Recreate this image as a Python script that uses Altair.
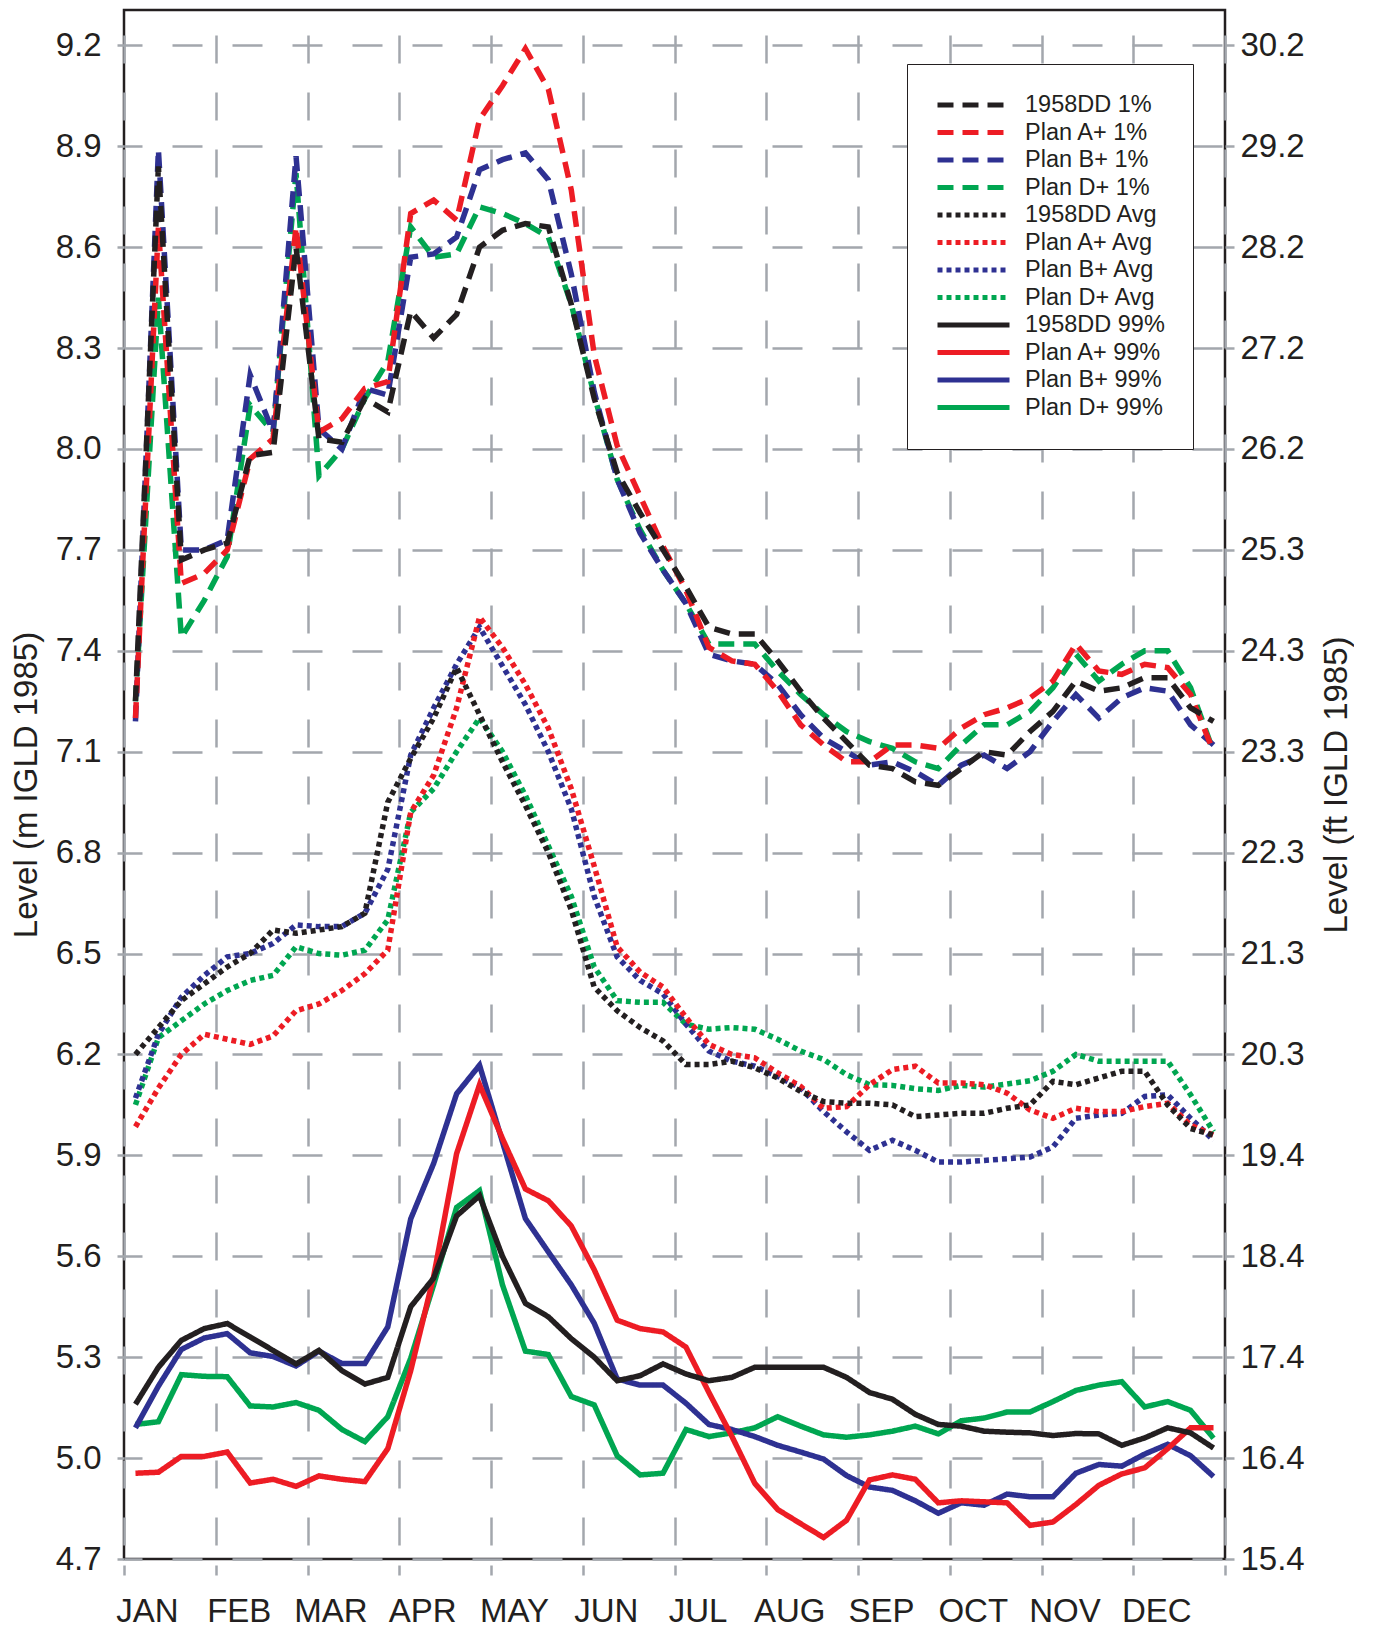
import altair as alt
import pandas as pd

# ---------------- data ----------------
months = ["JAN", "FEB", "MAR", "APR", "MAY", "JUN", "JUL", "AUG", "SEP", "OCT", "NOV", "DEC"]
m_ticks = [4.7, 5.0, 5.3, 5.6, 5.9, 6.2, 6.5, 6.8, 7.1, 7.4, 7.7, 8.0, 8.3, 8.6, 8.9, 9.2]
ft_labels = ["15.4", "16.4", "17.4", "18.4", "19.4", "20.3", "21.3", "22.3",
             "23.3", "24.3", "25.3", "26.2", "27.2", "28.2", "29.2", "30.2"]

legend_order = ["1958DD 1%", "Plan A+ 1%", "Plan B+ 1%", "Plan D+ 1%",
                "1958DD Avg", "Plan A+ Avg", "Plan B+ Avg", "Plan D+ Avg",
                "1958DD 99%", "Plan A+ 99%", "Plan B+ 99%", "Plan D+ 99%"]

dd_1 = [7.25, 8.84, 7.67, 7.70, 7.72, 7.98, 7.99, 8.60, 8.03, 8.02, 8.15, 8.11,
        8.41, 8.33, 8.40, 8.60, 8.65, 8.67, 8.66, 8.43, 8.15, 7.93, 7.81, 7.70,
        7.59, 7.47, 7.45, 7.45, 7.37, 7.28, 7.20, 7.13, 7.06, 7.05, 7.01, 7.00,
        7.05, 7.10, 7.09, 7.16, 7.22, 7.31, 7.28, 7.29, 7.32, 7.32, 7.23, 7.19]
a_1 = [7.20, 8.66, 7.60, 7.63, 7.70, 7.97, 8.03, 8.66, 8.05, 8.09, 8.18, 8.20,
       8.70, 8.74, 8.68, 8.98, 9.08, 9.19, 9.07, 8.77, 8.28, 8.01, 7.86, 7.71,
       7.58, 7.41, 7.37, 7.36, 7.28, 7.18, 7.12, 7.07, 7.07, 7.12, 7.12, 7.11,
       7.17, 7.21, 7.23, 7.26, 7.31, 7.42, 7.34, 7.33, 7.36, 7.35, 7.27, 7.10]
b_1 = [7.19, 8.89, 7.70, 7.70, 7.73, 8.22, 8.05, 8.87, 8.06, 8.00, 8.18, 8.16,
       8.57, 8.58, 8.63, 8.83, 8.86, 8.88, 8.80, 8.52, 8.17, 7.91, 7.75, 7.64,
       7.54, 7.39, 7.37, 7.36, 7.30, 7.21, 7.14, 7.10, 7.06, 7.07, 7.04, 7.00,
       7.06, 7.09, 7.05, 7.10, 7.19, 7.27, 7.20, 7.26, 7.29, 7.28, 7.18, 7.12]
d_1 = [7.25, 8.45, 7.44, 7.55, 7.68, 8.13, 8.05, 8.82, 7.92, 8.00, 8.15, 8.26,
       8.66, 8.57, 8.58, 8.72, 8.70, 8.67, 8.63, 8.43, 8.16, 7.91, 7.76, 7.64,
       7.54, 7.42, 7.42, 7.42, 7.34, 7.27, 7.21, 7.16, 7.13, 7.11, 7.07, 7.05,
       7.12, 7.18, 7.18, 7.22, 7.29, 7.39, 7.31, 7.36, 7.40, 7.40, 7.29, 7.10]

dd_avg = [6.20, 6.28, 6.36, 6.41, 6.46, 6.50, 6.57, 6.56, 6.57, 6.58, 6.62, 6.95,
          7.08, 7.20, 7.35, 7.21, 7.07, 6.94, 6.80, 6.63, 6.40, 6.33, 6.28, 6.24,
          6.17, 6.17, 6.18, 6.16, 6.13, 6.09, 6.06, 6.055, 6.055, 6.05, 6.015, 6.02,
          6.025, 6.025, 6.04, 6.05, 6.12, 6.11, 6.13, 6.15, 6.15, 6.05, 5.98, 5.96]
a_avg = [5.985, 6.10, 6.20, 6.26, 6.245, 6.23, 6.255, 6.33, 6.35, 6.39, 6.44, 6.51,
         6.92, 7.03, 7.23, 7.50, 7.41, 7.30, 7.17, 6.99, 6.76, 6.52, 6.445, 6.40,
         6.31, 6.23, 6.20, 6.19, 6.145, 6.105, 6.04, 6.045, 6.11, 6.155, 6.165, 6.115,
         6.115, 6.11, 6.085, 6.035, 6.01, 6.04, 6.03, 6.03, 6.045, 6.055, 5.99, 5.96]
b_avg = [6.07, 6.26, 6.37, 6.435, 6.49, 6.50, 6.53, 6.585, 6.58, 6.58, 6.62, 6.75,
         7.09, 7.23, 7.36, 7.47, 7.355, 7.24, 7.10, 6.93, 6.67, 6.49, 6.42, 6.38,
         6.29, 6.21, 6.18, 6.165, 6.135, 6.10, 6.03, 5.97, 5.915, 5.945, 5.915, 5.88,
         5.88, 5.885, 5.89, 5.895, 5.925, 6.01, 6.02, 6.025, 6.075, 6.08, 6.01, 5.945]
d_avg = [6.05, 6.25, 6.30, 6.35, 6.39, 6.42, 6.435, 6.52, 6.50, 6.495, 6.51, 6.60,
         6.92, 6.99, 7.10, 7.20, 7.10, 6.97, 6.82, 6.67, 6.46, 6.36, 6.355, 6.355,
         6.29, 6.275, 6.28, 6.275, 6.245, 6.21, 6.185, 6.14, 6.11, 6.108, 6.098, 6.093,
         6.108, 6.103, 6.112, 6.122, 6.15, 6.20, 6.18, 6.18, 6.18, 6.18, 6.08, 5.97]

dd_99 = [5.16, 5.27, 5.35, 5.385, 5.40, 5.36, 5.32, 5.28, 5.32, 5.26, 5.22, 5.24,
         5.45, 5.535, 5.72, 5.78, 5.60, 5.46, 5.42, 5.355, 5.30, 5.23, 5.245, 5.28,
         5.25, 5.23, 5.24, 5.27, 5.27, 5.27, 5.27, 5.24, 5.195, 5.175, 5.13, 5.10,
         5.095, 5.08, 5.077, 5.075, 5.067, 5.073, 5.072, 5.038, 5.06, 5.09, 5.075, 5.03]
a_99 = [4.955, 4.958, 5.005, 5.005, 5.018, 4.926, 4.937, 4.916, 4.947, 4.937, 4.93, 5.028,
        5.26, 5.54, 5.905, 6.11, 5.95, 5.80, 5.765, 5.69, 5.56, 5.41, 5.385, 5.375,
        5.33, 5.195, 5.065, 4.925, 4.847, 4.805, 4.764, 4.815, 4.935, 4.95, 4.937, 4.867,
        4.873, 4.87, 4.867, 4.80, 4.81, 4.862, 4.919, 4.953, 4.971, 5.028, 5.09, 5.09]
b_99 = [5.09, 5.214, 5.323, 5.357, 5.37, 5.313, 5.302, 5.274, 5.318, 5.281, 5.281, 5.39,
        5.711, 5.876, 6.083, 6.168, 5.94, 5.712, 5.613, 5.515, 5.401, 5.235, 5.217, 5.217,
        5.163, 5.10, 5.085, 5.064, 5.038, 5.018, 4.997, 4.948, 4.914, 4.904, 4.873, 4.836,
        4.867, 4.86, 4.893, 4.885, 4.885, 4.955, 4.981, 4.976, 5.012, 5.041, 5.007, 4.945]
d_99 = [5.10, 5.108, 5.248, 5.243, 5.242, 5.155, 5.152, 5.165, 5.142, 5.085, 5.049, 5.123,
        5.297, 5.515, 5.745, 5.795, 5.515, 5.318, 5.308, 5.183, 5.158, 5.007, 4.95, 4.955,
        5.085, 5.064, 5.075, 5.09, 5.123, 5.095, 5.069, 5.062, 5.069, 5.08, 5.095, 5.072,
        5.111, 5.119, 5.137, 5.137, 5.168, 5.201, 5.217, 5.227, 5.152, 5.168, 5.142, 5.059]

series_values = {
    "1958DD 1%": dd_1, "Plan A+ 1%": a_1, "Plan B+ 1%": b_1, "Plan D+ 1%": d_1,
    "1958DD Avg": dd_avg, "Plan A+ Avg": a_avg, "Plan B+ Avg": b_avg, "Plan D+ Avg": d_avg,
    "1958DD 99%": dd_99, "Plan A+ 99%": a_99, "Plan B+ 99%": b_99, "Plan D+ 99%": d_99,
}

# drawing order (later drawn on top)
draw_order = ["Plan D+ 1%", "Plan B+ 1%", "Plan A+ 1%", "1958DD 1%",
              "Plan D+ Avg", "Plan B+ Avg", "Plan A+ Avg", "1958DD Avg",
              "Plan D+ 99%", "Plan B+ 99%", "Plan A+ 99%", "1958DD 99%"]

rows = []
for name in draw_order:
    for i, v in enumerate(series_values[name]):
        rows.append({"series": name, "week": i + 0.5, "level": v})
df = pd.DataFrame(rows)

# ---------------- style ----------------
BLACK = "#231f20"
RED = "#ed1c24"
BLUE = "#2e3192"
GREEN = "#00a651"
GRID = "#a3a7ad"
FONT = "Liberation Sans"

color_range = [BLACK, RED, BLUE, GREEN] * 3
dash_range = [[16, 9]] * 4 + [[5, 4]] * 4 + [[1, 0]] * 4

W, H = 1101, 1549
ydomain = [4.7, 9.305]
yscale = alt.Scale(domain=ydomain, nice=False, zero=False)

month_expr = "[" + ",".join("'" + m + "'" for m in months) + ",''][round(datum.value/4)]"
ft_expr = "[" + ",".join("'" + f + "'" for f in ft_labels) + "][round((datum.value-4.7)/0.3)]"

legend = alt.Legend(
    title=None, orient="none", legendX=783, legendY=54,
    symbolType="stroke", symbolSize=5184, symbolStrokeWidth=5,
    labelFontSize=23.5, labelOffset=13, labelColor=BLACK, labelFont=FONT,
    labelLimit=400, clipHeight=26, rowPadding=1.5, padding=28,
    strokeColor=BLACK, fillColor="white",
)

x_axis = alt.Axis(
    values=list(range(0, 49, 4)), labelExpr=month_expr, labelOffset=23,
    labelFlush=False, labelOverlap=False, labelFontSize=33, labelColor=BLACK,
    labelPadding=20, labelFont=FONT,
    grid=True, gridColor=GRID, gridWidth=2.5, gridDash=[28, 29], gridDashOffset=32,
    tickColor=GRID, tickWidth=2.5, tickSize=16, tickDash=[0, 6, 10, 60],
    domain=False,
)

y_axis_left = alt.Axis(
    values=m_ticks, format=".1f", title="Level (m IGLD 1985)",
    labelFontSize=33, labelColor=BLACK, labelPadding=16, labelFont=FONT,
    titleFontSize=33, titleFontWeight="normal", titleColor=BLACK, titlePadding=12,
    titleFont=FONT,
    grid=True, gridColor=GRID, gridWidth=2.5, gridDash=[30, 30], gridDashOffset=12,
    tickColor=GRID, tickWidth=2.5, tickSize=7, domain=False,
)

y_axis_right = alt.Axis(
    orient="right", values=m_ticks, labelExpr=ft_expr, title="Level (ft IGLD 1985)",
    labelFontSize=33, labelColor=BLACK, labelPadding=6, labelFont=FONT,
    titleFontSize=33, titleFontWeight="normal", titleColor=BLACK, titlePadding=16,
    titleFont=FONT, titleAngle=270, titleBaseline="top",
    grid=False, tickColor=GRID, tickWidth=2.5, tickSize=9, domain=False,
)

lines = alt.Chart(df).mark_line(strokeWidth=5.5, strokeCap="butt", strokeJoin="miter",
                                 strokeMiterLimit=4).encode(
    x=alt.X("week:Q", scale=alt.Scale(domain=[0, 48], nice=False, zero=False),
            axis=x_axis, title=None),
    y=alt.Y("level:Q", scale=yscale, axis=y_axis_left),
    color=alt.Color("series:N", scale=alt.Scale(domain=legend_order, range=color_range),
                    legend=legend),
    strokeDash=alt.StrokeDash("series:N",
                              scale=alt.Scale(domain=legend_order, range=dash_range),
                              legend=legend),
    detail="series:N",
)

right_axis_layer = alt.Chart(pd.DataFrame({"level": m_ticks})).mark_point(opacity=0).encode(
    y=alt.Y("level:Q", scale=yscale, axis=y_axis_right),
)

chart = alt.layer(lines, right_axis_layer).resolve_axis(y="independent").properties(
    width=W, height=H,
    padding={"left": 2, "top": 2, "right": 0, "bottom": 0},
).configure(
    font=FONT,
).configure_view(
    stroke=BLACK, strokeWidth=2.5,
)

chart.save("out.html", embed_options={"renderer": "svg", "actions": False})
